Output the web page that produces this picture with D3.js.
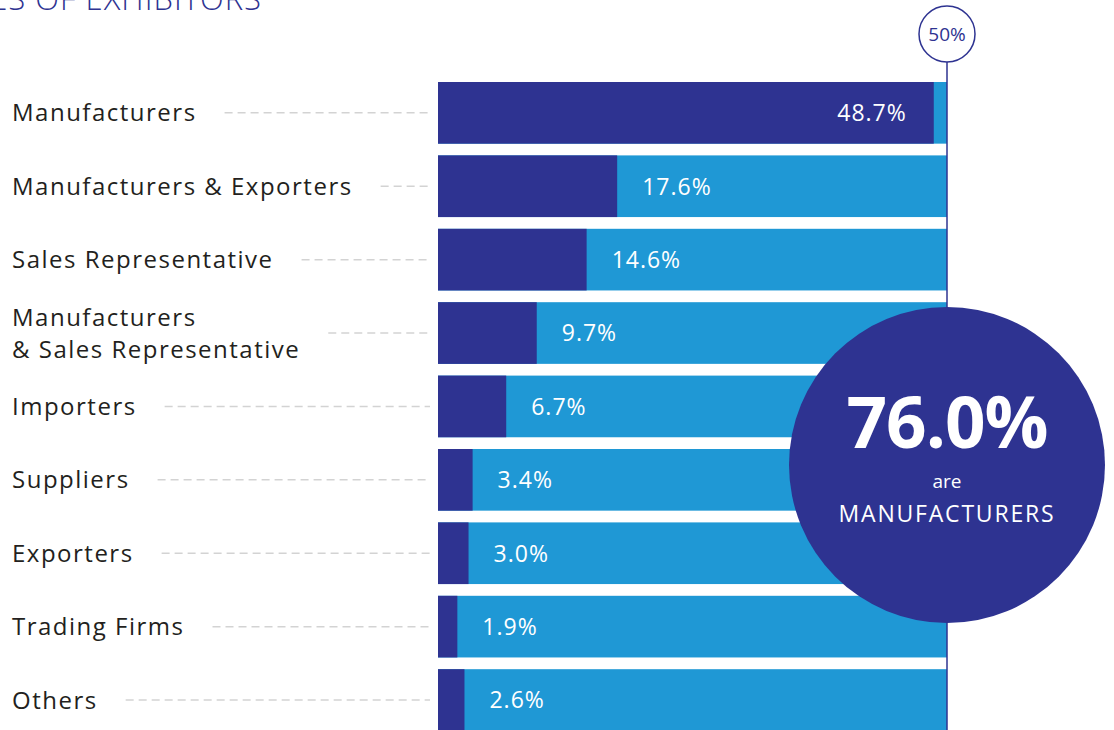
<!DOCTYPE html>
<html>
<head>
<meta charset="utf-8">
<script src="https://cdn.jsdelivr.net/npm/d3@7"></script>
<style>
    body { margin: 0; background: #ffffff; }
    svg { display: block; font-family: "Open Sans", "Lato", sans-serif; }
</style>
</head>
<body>
<div id="graph"></div>
<script>

// Données du graphique
const categories = [
    "Manufacturers",
    "Manufacturers & Exporters",
    "Sales Representative",
    "Manufacturers\n& Sales Representative",
    "Importers",
    "Suppliers",
    "Exporters",
    "Trading Firms",
    "Others"
];
const shares = [48.7, 17.6, 14.6, 9.7, 6.7, 3.4, 3.0, 1.9, 2.6];
const maxShare = 50;
const maxLabel = "50%";
const highlightValue = "76.0%";
const highlightLines = ["are", "MANUFACTURERS"];
const titleText = "TYPES OF EXHIBITORS";

const tidyData = categories.map((c, i) => ({ cat: c, value: shares[i] }));

//---------------------------------------------------------------------------------------

// Canevas SVG
const width = 1114;
const height = 730;
const dark = "#2e3391";
const light = "#1f98d5";

const svg = d3.select("#graph")
    .append("svg")
    .attr("width", width)
    .attr("height", height);

//---------------------------------------------------------------------------------------

// Échelles
const scaleX = d3.scaleLinear()
    .domain([0, maxShare])
    .range([438, 947]);

const scaleY = d3.scaleBand()
    .domain(d3.range(tidyData.length))
    .range([82, 82 + 73.4 * (tidyData.length - 0.16)])
    .paddingInner(0.16)
    .paddingOuter(0);

//---------------------------------------------------------------------------------------

// Titre (coupé à gauche comme sur l'original)
svg.append("text")
    .attr("x", 262)
    .attr("y", 10)
    .attr("text-anchor", "end")
    .attr("fill", dark)
    .attr("font-size", "31px")
    .attr("font-weight", 300)
    .attr("letter-spacing", "1px")
    .text(titleText);

//---------------------------------------------------------------------------------------

// Barres de fond (jusqu'à 50%)
svg.append("g")
    .selectAll("rect")
    .data(tidyData)
    .join("rect")
    .attr("x", scaleX(0))
    .attr("y", (d, i) => scaleY(i))
    .attr("width", scaleX(maxShare) - scaleX(0))
    .attr("height", scaleY.bandwidth())
    .attr("fill", light);

// Barres des valeurs
svg.append("g")
    .selectAll("rect")
    .data(tidyData)
    .join("rect")
    .attr("x", scaleX(0))
    .attr("y", (d, i) => scaleY(i))
    .attr("width", d => scaleX(d.value) - scaleX(0))
    .attr("height", scaleY.bandwidth())
    .attr("fill", dark);

// Labels des valeurs
svg.append("g")
    .selectAll("text")
    .data(tidyData)
    .join("text")
    .attr("x", d => (d.value > 40) ? scaleX(d.value) - 27 : scaleX(d.value) + 25)
    .attr("y", (d, i) => scaleY(i) + scaleY.bandwidth() / 2)
    .attr("dy", "0.36em")
    .attr("text-anchor", d => (d.value > 40) ? "end" : "start")
    .attr("fill", "#ffffff")
    .attr("font-size", "23px")
    .attr("letter-spacing", "1px")
    .text(d => d.value.toFixed(1) + "%");

//---------------------------------------------------------------------------------------

// Catégories + pointillés
const labels = svg.append("g")
    .selectAll("g")
    .data(tidyData)
    .join("g")
    .attr("transform", (d, i) => `translate(12, ${scaleY(i) + scaleY.bandwidth() / 2})`);

labels.each(function (d) {
    const g = d3.select(this);
    const lines = d.cat.split("\n");
    const t = g.append("text")
        .attr("fill", "#231f20")
        .attr("font-size", "24px")
        .attr("letter-spacing", "1.5px");
    lines.forEach((l, j) => {
        t.append("tspan")
            .attr("x", 0)
            .attr("y", (j - (lines.length - 1) / 2) * 32)
            .attr("dy", "0.36em")
            .text(l);
    });
    const w = d3.max(t.selectAll("tspan").nodes(), n => n.getComputedTextLength());
    g.append("line")
        .attr("x1", w + 28)
        .attr("x2", scaleX(0) - 12 - 8)
        .attr("y1", 0)
        .attr("y2", 0)
        .attr("stroke", "#d3d3d3")
        .attr("stroke-width", 1.5)
        .attr("stroke-dasharray", "8,5");
});

//---------------------------------------------------------------------------------------

// Repère 50%
svg.append("line")
    .attr("x1", scaleX(maxShare))
    .attr("x2", scaleX(maxShare))
    .attr("y1", 62)
    .attr("y2", height)
    .attr("stroke", dark)
    .attr("stroke-width", 1.5);

svg.append("circle")
    .attr("cx", scaleX(maxShare))
    .attr("cy", 34)
    .attr("r", 28)
    .attr("fill", "#ffffff")
    .attr("stroke", dark)
    .attr("stroke-width", 1.5);

svg.append("text")
    .attr("x", scaleX(maxShare))
    .attr("y", 34)
    .attr("dy", "0.36em")
    .attr("text-anchor", "middle")
    .attr("fill", dark)
    .attr("font-size", "19px")
    .text(maxLabel);

//---------------------------------------------------------------------------------------

// Bulle 76.0%
const bubble = svg.append("g")
    .attr("transform", `translate(${scaleX(maxShare)}, 465)`);

bubble.append("circle")
    .attr("r", 158)
    .attr("fill", dark);

bubble.append("text")
    .attr("y", -17)
    .attr("text-anchor", "middle")
    .attr("fill", "#ffffff")
    .attr("font-size", "71px")
    .attr("font-weight", "bold")
    .attr("letter-spacing", "-1px")
    .text(highlightValue);

bubble.append("text")
    .attr("y", 23)
    .attr("text-anchor", "middle")
    .attr("fill", "#ffffff")
    .attr("font-size", "19px")
    .text(highlightLines[0]);

bubble.append("text")
    .attr("y", 57)
    .attr("text-anchor", "middle")
    .attr("fill", "#ffffff")
    .attr("font-size", "23px")
    .attr("letter-spacing", "1.8px")
    .text(highlightLines[1]);

</script>
</body>
</html>
